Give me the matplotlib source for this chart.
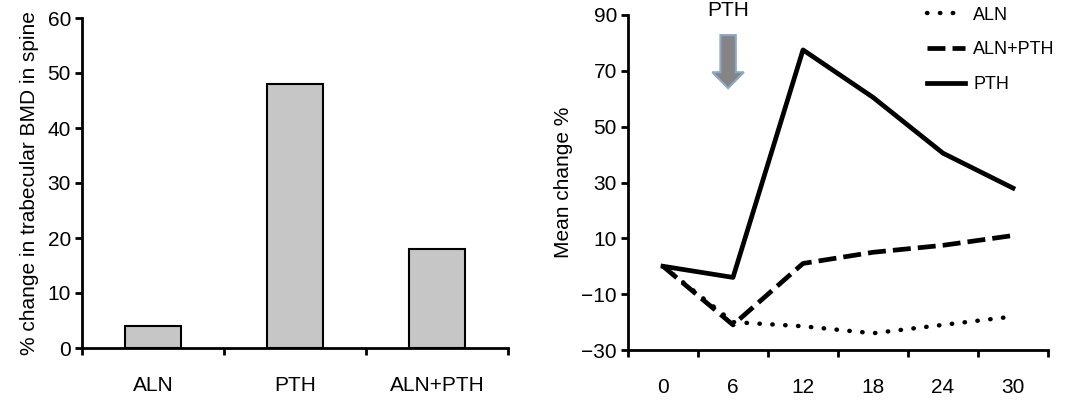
import matplotlib
matplotlib.use('Agg')
import matplotlib.pyplot as plt
from matplotlib.patches import FancyArrow

plt.rcParams['font.family'] = ['Liberation Sans', 'DejaVu Sans']
plt.rcParams['font.size'] = 15

# Left panel data
groups = ['ALN', 'PTH', 'ALN+PTH']
bmd_change = [4, 48, 18]

# Right panel data
months = ['0', '6', '12', '18', '24', '30']
aln = [0, -20, -21.5, -24, -21, -18]
aln_pth = [0, -21, 1, 5, 7.5, 11]
pth = [0, -4, 77.5, 60.5, 40.5, 28]

fig = plt.figure(figsize=(10.87, 4.0), dpi=100)
ax1 = fig.add_axes([82/1087, 1-348/400, (508-82)/1087, 330/400])
ax2 = fig.add_axes([628/1087, 1-350/400, (1048-628)/1087, 335/400])

def style_axes(ax, n):
    for s in ['top', 'right']:
        ax.spines[s].set_visible(False)
    for s in ['left', 'bottom']:
        ax.spines[s].set_linewidth(2)
    ax.set_xlim(-0.5, n - 0.5)
    ax.set_xticks(range(n))
    ax.set_xticks([i - 0.5 for i in range(n + 1)], minor=True)
    ax.tick_params(axis='x', which='major', length=0, pad=20)
    ax.tick_params(axis='x', which='minor', length=5, width=2, direction='out')
    ax.tick_params(axis='y', length=5, width=2, direction='out', pad=3)

# Bars
ax1.bar(range(len(groups)), bmd_change, width=0.4, color='#c6c6c6',
        edgecolor='black', linewidth=1.5)
style_axes(ax1, len(groups))
ax1.set_xticklabels(groups)
ax1.set_ylim(0, 60)
ax1.set_yticks(range(0, 61, 10))
ax1.set_ylabel('% change in trabecular BMD in spine', labelpad=6)

# Lines
x = range(len(months))
ax2.plot(x, aln, color='black', lw=3.2, linestyle=(0, (0.1, 2.8)),
         dash_capstyle='round', label='ALN')
ax2.plot(x, aln_pth, color='black', lw=3.4, linestyle=(0, (3.8, 1.5)),
         label='ALN+PTH')
ax2.plot(x, pth, color='black', lw=3.4, label='PTH')
style_axes(ax2, len(months))
ax2.set_xticklabels(months)
ax2.set_ylim(-30, 90)
ax2.set_yticks(range(-30, 91, 20))
ax2.set_ylabel('Mean change %', labelpad=6)

ax2.add_patch(FancyArrow(0.93, 82.8, 0, -19, width=0.22, head_width=0.45,
                         head_length=5.7, length_includes_head=True,
                         facecolor='#858585', edgecolor='#8aa8cc', lw=1.5))
ax2.text(0.93, 89.6, 'PTH', ha='center', va='baseline', clip_on=False)

ax2.legend(loc='upper left', bbox_to_anchor=(0.712, 1.025), frameon=False,
           fontsize=13, borderpad=0, borderaxespad=0, handlelength=2.1,
           handletextpad=0.45, labelspacing=0.98)

fig.savefig('out.png', dpi=100)
